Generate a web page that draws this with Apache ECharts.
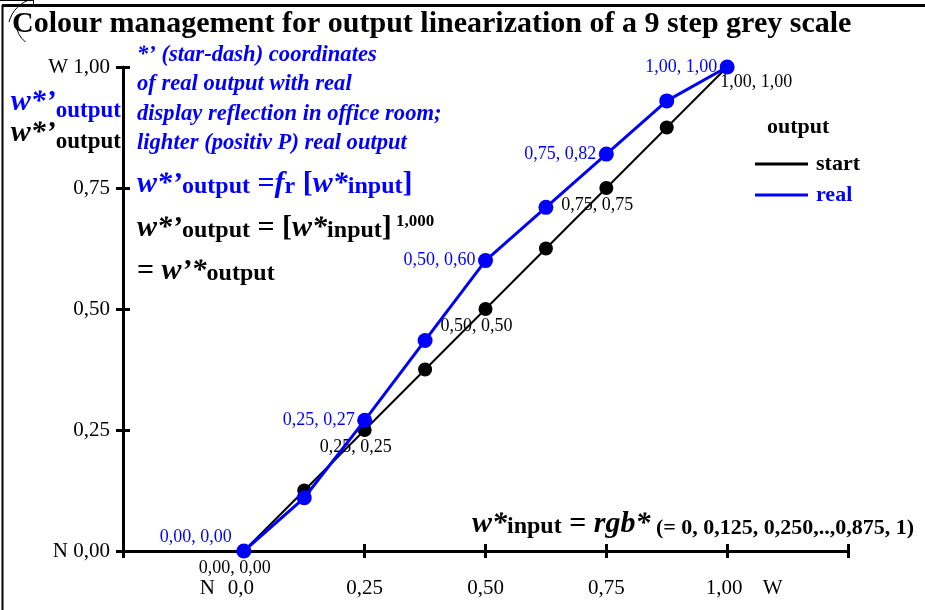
<!DOCTYPE html>
<html>
<head>
<meta charset="utf-8">
<script src="https://cdn.jsdelivr.net/npm/echarts@6/dist/echarts.min.js"></script>
<style>
  html, body { margin: 0; padding: 0; background: #fff; }
  #chart { width: 925px; height: 610px; }
</style>
</head>
<body>
<div id="chart"></div>
<script>
// grey scale steps (input) and measured outputs
const inputSteps = [0, 0.125, 0.25, 0.375, 0.5, 0.625, 0.75, 0.875, 1];
const startOutput = [0, 0.125, 0.25, 0.375, 0.5, 0.625, 0.75, 0.875, 1];
const realOutput = [0, 0.11, 0.27, 0.435, 0.6, 0.71, 0.82, 0.93, 1];
const labelledSteps = [0, 2, 4, 6, 8];

// tick labels
const xTickText = ['0,0', '0,25', '0,50', '0,75', '1,00'];
const yTickText = ['N 0,00', '0,25', '0,50', '0,75', 'W 1,00'];

const noteLines = [
  '*’ (star-dash) coordinates',
  'of real output with real',
  'display reflection in office room;',
  'lighter (positiv P) real output'
];

const SERIF = '"Liberation Serif", "DejaVu Serif", serif';
const BLUE = '#0000ff';

const fmt = (v) => v.toFixed(2).replace('.', ',');

const chart = echarts.init(document.getElementById('chart'));

const makeData = (ys) =>
  inputSteps.map((x, i) => ({
    value: [x, ys[i]],
    label: { show: labelledSteps.indexOf(i) >= 0 }
  }));

const startData = makeData(startOutput);
// last black label sits right below the point
startData[8].label.position = [0, 22];

const realData = makeData(realOutput);
// first blue label sits above-left of the point
realData[0].label.position = [-4.5, -6.5];

// zrender rich token (graphic text uses fill, not color)
const tok = (size, fill, style) => ({
  fontFamily: SERIF,
  fontSize: size,
  fontStyle: style || 'normal',
  fontWeight: 'bold',
  fill: fill,
  lineHeight: size,
  verticalAlign: 'bottom'
});

const formulaRich = {
  wb: tok(30, BLUE, 'italic'),
  sb: tok(24, BLUE),
  eb: tok(30, BLUE),
  wk: tok(30, '#000', 'italic'),
  sk: tok(24, '#000'),
  ek: tok(30, '#000'),
  pk: tok(22, '#000'),
  sup: Object.assign(tok(17, '#000'), { verticalAlign: 'top' })
};

const nameRich = {
  wb: Object.assign(tok(30, BLUE, 'italic'), { padding: [0, 0, 6, 0] }),
  sb: tok(23, BLUE),
  wk: Object.assign(tok(30, '#000', 'italic'), { padding: [0, 0, 6, 0] }),
  sk: tok(23, '#000')
};

const graphics = [
  // frame
  { type: 'line', shape: { x1: 2, y1: 5.5, x2: 925, y2: 5.5 }, style: { stroke: '#000', lineWidth: 3 } },
  { type: 'line', shape: { x1: 2.5, y1: 5, x2: 2.5, y2: 610 }, style: { stroke: '#000', lineWidth: 2 } },
  { type: 'line', shape: { x1: 0, y1: 0.5, x2: 33, y2: 0.5 }, style: { stroke: '#000', lineWidth: 1 } },
  { type: 'line', shape: { x1: 33.5, y1: 0, x2: 33.5, y2: 5 }, style: { stroke: '#000', lineWidth: 1 } },
  { type: 'arc', shape: { cx: 40, cy: 30, r: 32, startAngle: Math.PI * 1.08, endAngle: Math.PI * 1.42 }, style: { stroke: '#000', fill: null, lineWidth: 1 } },
  { type: 'arc', shape: { cx: 42, cy: 22, r: 26, startAngle: Math.PI * 0.72, endAngle: Math.PI * 0.98 }, style: { stroke: '#000', fill: null, lineWidth: 1 } },
  // title
  {
    type: 'text',
    style: { x: 12, y: 24, text: 'Colour management for output linearization of a 9 step grey scale',
      font: 'bold 30px ' + SERIF, fill: '#000', verticalAlign: 'middle', textVerticalAlign: 'middle' }
  },
  // y axis names
  {
    type: 'text',
    style: { x: 121, y: 108, text: '{wb|w*’}{sb|output}', rich: nameRich,
      align: 'right', textAlign: 'right', verticalAlign: 'middle', textVerticalAlign: 'middle' }
  },
  {
    type: 'text',
    style: { x: 121, y: 139, text: '{wk|w*’}{sk|output}', rich: nameRich,
      align: 'right', textAlign: 'right', verticalAlign: 'middle', textVerticalAlign: 'middle' }
  },
  // formulas
  {
    type: 'text',
    style: { x: 137, y: 184, text: '{wb|w*’}{sb|output}{eb| =}{wb|f}{sb|r}{eb| [}{wb|w*}{sb|input}{eb|]}',
      rich: formulaRich, verticalAlign: 'middle', textVerticalAlign: 'middle' }
  },
  {
    type: 'text',
    style: { x: 137, y: 228, text: '{wk|w*’}{sk|output}{ek| = [}{wk|w*}{sk|input}{ek|]}{sup| 1,000}',
      rich: formulaRich, verticalAlign: 'middle', textVerticalAlign: 'middle' }
  },
  {
    type: 'text',
    style: { x: 137, y: 271, text: '{ek|= }{wk|w’*}{sk|output}',
      rich: formulaRich, verticalAlign: 'middle', textVerticalAlign: 'middle' }
  },
  {
    type: 'text',
    style: { x: 472, y: 524, text: '{wk|w*}{sk|input}{ek| = }{wk|rgb*}{pk| (= 0, 0,125, 0,250,..,0,875, 1)}',
      rich: formulaRich, verticalAlign: 'middle', textVerticalAlign: 'middle' }
  },
  // legend heading
  {
    type: 'text',
    style: { x: 767, y: 127, text: 'output', font: 'bold 22px ' + SERIF, fill: '#000',
      verticalAlign: 'middle', textVerticalAlign: 'middle' }
  }
];

noteLines.forEach((line, i) => {
  graphics.push({
    type: 'text',
    style: { x: 137, y: 55 + i * 29.5, text: line, font: 'italic bold 22.6px ' + SERIF, fill: BLUE,
      verticalAlign: 'middle', textVerticalAlign: 'middle' }
  });
});

const axisBase = {
  type: 'value',
  interval: 0.25,
  splitLine: { show: false }
};

const options = {
  animation: false,
  backgroundColor: '#fff',
  grid: { left: 123, top: 67, width: 725, height: 484, containLabel: false },
  legend: {
    orient: 'vertical',
    left: 750,
    top: 148,
    icon: 'rect',
    itemWidth: 53,
    itemHeight: 3,
    itemGap: 9,
    textStyle: { fontFamily: SERIF, fontSize: 22, fontWeight: 'bold', color: '#000', padding: [0, 0, 0, 3] },
    data: [
      { name: 'start' },
      { name: 'real', textStyle: { color: BLUE } }
    ]
  },
  xAxis: [
    Object.assign({}, axisBase, {
      min: -0.25,
      max: 1.25,
      position: 'bottom',
      axisLine: { onZero: false, lineStyle: { color: '#000', width: 3 } },
      axisTick: { length: 7, lineStyle: { color: '#000', width: 3 } },
      axisLabel: {
        margin: 27,
        fontFamily: SERIF,
        fontSize: 21,
        color: '#000',
        formatter: (v) => {
          const i = Math.round(v / 0.25);
          if (i < 0 || i >= xTickText.length) return '';
          if (i === 0) return '{n|N}' + xTickText[i] + '{p| }';
          if (i === xTickText.length - 1) return '{p| }' + xTickText[i] + '{w|W}';
          return xTickText[i];
        },
        rich: {
          n: { width: 28, align: 'left', fontFamily: SERIF, fontSize: 21, color: '#000' },
          w: { width: 40, align: 'right', fontFamily: SERIF, fontSize: 21, color: '#000' },
          p: { width: 34, fontFamily: SERIF, fontSize: 21, color: '#000' }
        }
      }
    }),
    Object.assign({}, axisBase, {
      min: -0.25,
      max: 1.25,
      position: 'bottom',
      axisLine: { show: false, onZero: false },
      axisTick: { inside: true, length: 7, lineStyle: { color: '#000', width: 3 } },
      axisLabel: { show: false }
    })
  ],
  yAxis: [
    Object.assign({}, axisBase, {
      min: 0,
      max: 1,
      position: 'left',
      axisLine: { onZero: false, lineStyle: { color: '#000', width: 3 } },
      axisTick: { length: 7, lineStyle: { color: '#000', width: 3 } },
      axisLabel: {
        margin: 13,
        fontFamily: SERIF,
        fontSize: 21,
        color: '#000',
        formatter: (v) => yTickText[Math.round(v / 0.25)]
      }
    }),
    Object.assign({}, axisBase, {
      min: 0,
      max: 1,
      position: 'left',
      axisLine: { show: false, onZero: false },
      axisTick: { inside: true, length: 7, lineStyle: { color: '#000', width: 3 } },
      axisLabel: { show: false }
    })
  ],
  series: [
    {
      name: 'start',
      type: 'line',
      z: 2,
      symbol: 'circle',
      symbolSize: 14,
      color: '#000',
      lineStyle: { width: 2, color: '#000' },
      itemStyle: { color: '#000' },
      label: {
        position: [-38, 24],
        align: 'left',
        verticalAlign: 'middle',
        fontFamily: SERIF,
        fontSize: 18,
        color: '#000',
        formatter: (p) => fmt(p.value[0]) + ', ' + fmt(p.value[1])
      },
      data: startData
    },
    {
      name: 'real',
      type: 'line',
      z: 3,
      symbol: 'circle',
      symbolSize: 15,
      color: BLUE,
      lineStyle: { width: 3, color: BLUE },
      itemStyle: { color: BLUE },
      label: {
        position: [-2.5, 7.5],
        align: 'right',
        verticalAlign: 'middle',
        fontFamily: SERIF,
        fontSize: 18,
        color: BLUE,
        formatter: (p) => fmt(p.value[0]) + ', ' + fmt(p.value[1])
      },
      data: realData
    }
  ],
  graphic: graphics
};

chart.setOption(options);
</script>
</body>
</html>
